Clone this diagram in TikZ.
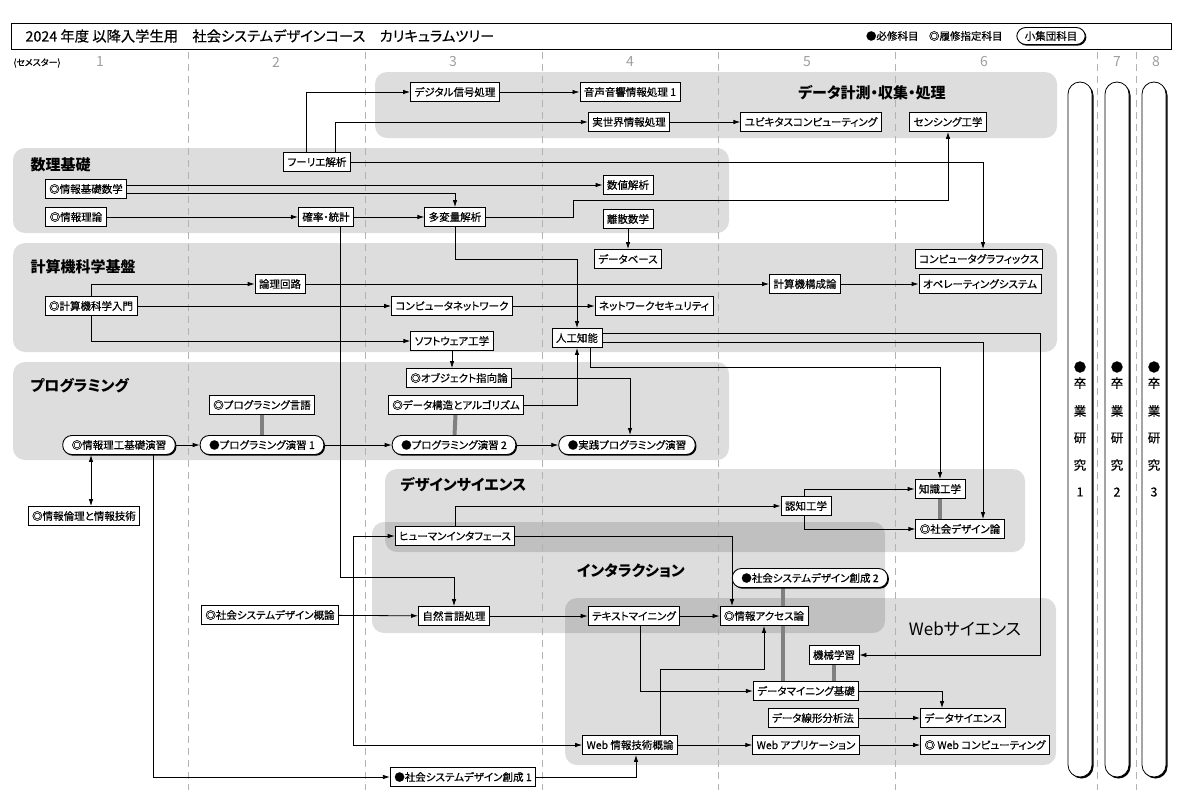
\documentclass[tikz,border=0pt]{standalone}
\usepackage{fontspec}
\setmainfont{Noto Sans CJK JP}[RawFeature=+palt]
\newfontfamily\boxfont{Noto Sans CJK JP}[RawFeature=+palt, FakeBold=0.4]
\usetikzlibrary{arrows.meta,backgrounds,shadows}

\tikzset{
    box/.style={draw, fill=white, line width=0.8pt, inner xsep=4pt, inner ysep=1pt,
        minimum height=19pt, font=\boxfont\fontsize{10.5}{11}\selectfont},
    pill/.style={box, rounded corners=9pt, line width=0.9pt, inner xsep=9pt,
        drop shadow={shadow xshift=1.2pt, shadow yshift=-1.2pt, opacity=1, fill=black}},
    group/.style={fill=black, fill opacity=0.135, rounded corners=12pt},
    grouptitle/.style={font=\fontsize{15}{16}\selectfont\bfseries},
    arr/.style={-{Latex[length=7pt,width=4.5pt]}, line width=0.8pt},
    tie/.style={line width=4pt, draw=black!50},
    sem/.style={text=black!38, font=\fontsize{14}{14}\selectfont},
    semline/.style={draw=black!30, line width=0.8pt, dash pattern=on 7pt off 5pt},
    thesis/.style={draw, fill=white, line width=0.8pt, rounded corners=12pt,
        drop shadow={shadow xshift=1.5pt, shadow yshift=-1.5pt, opacity=1, fill=black}},
}

\begin{document}
\begin{tikzpicture}[x=1pt, y=-1pt]
    \useasboundingbox (0,0) rectangle (1183,806);

    % semesters
    \foreach \x in {188,365,542,718,895,1097,1136}
        \draw[semline] (\x,52) -- (\x,790);
    \node[font=\boxfont\fontsize{9}{10}\selectfont] (semlabel) at (37,63) {(セメスター)};
    \foreach \x/\n in {100/1,276/2,453/3,630/4,807/5,984/6,1117/7,1156/8}
        \node[sem] (sem\n) at (\x,62) {\n};

    % header
    \draw[line width=0.8pt] (11,23) rectangle (1171,49);
    \node[anchor=west, font=\boxfont\fontsize{14.3}{15}\selectfont] (title) at (22,36)
        {2024 年度 以降入学生用　社会システムデザインコース　カリキュラムツリー};
    \node[anchor=east, font=\boxfont\fontsize{10.5}{11}\selectfont] (legend) at (1006,36) {●必修科目　◎履修指定科目};
    \node[pill, font=\boxfont\fontsize{10.5}{11}\selectfont, minimum height=17pt, inner xsep=8pt] (smallgrp) at (1051,36) {小集団科目};

    % group titles
    \node[grouptitle] (gdata) at (872,93) {データ計測・収集・処理};
    \node[grouptitle, anchor=west] (gmath) at (27,165) {数理基礎};
    \node[grouptitle, anchor=west] (gcs) at (27,267) {計算機科学基盤};
    \node[grouptitle, anchor=west] (gprog) at (27,386) {プログラミング};
    \node[grouptitle, anchor=west] (gdesign) at (397,485) {デザインサイエンス};
    \node[grouptitle] (ginter) at (631,571) {インタラクション};
    \node[font=\fontsize{17}{18}\selectfont] (gweb) at (965,629) {Webサイエンス};

    % data
    \node[box] (dsp) at (455,92) {デジタル信号処理};
    \node[box] (audio) at (630,92) {音声音響情報処理 1};
    \node[box] (realw) at (629,122) {実世界情報処理};
    \node[box] (ubiq) at (811,122) {ユビキタスコンピューティング};
    \node[box] (sensing) at (948,122) {センシング工学};

    % math
    \node[box] (fourier) at (317,162) {フーリエ解析};
    \node[box] (infomath) at (86,189) {◎情報基礎数学};
    \node[box] (infotheory) at (76,217) {◎情報理論};
    \node[box] (prob) at (326,217) {確率・統計};
    \node[box] (multi) at (455,217) {多変量解析};
    \node[box] (numeric) at (628,185) {数値解析};
    \node[box] (discrete) at (628,219) {離散数学};
    \node[box] (database) at (628,259) {データベース};
    \node[box] (cg) at (979,259) {コンピュータグラフィックス};

    % computer science
    \node[box] (logic) at (280,284) {論理回路};
    \node[box] (csintro) at (91,306) {◎計算機科学入門};
    \node[box] (network) at (452,306) {コンピュータネットワーク};
    \node[box] (security) at (654,306) {ネットワークセキュリティ};
    \node[box] (arch) at (805,284) {計算機構成論};
    \node[box] (os) at (980,284) {オペレーティングシステム};
    \node[box] (softeng) at (452,341) {ソフトウェア工学};
    \node[box] (ai) at (577,338) {人工知能};

    % programming
    \node[box] (oop) at (459,378) {◎オブジェクト指向論};
    \node[box] (dsa) at (456,405) {◎データ構造とアルゴリズム};
    \node[box] (plang) at (262,405) {◎プログラミング言語};
    \node[pill] (basics) at (119,445) {◎情報理工基礎演習};
    \node[pill] (prog1) at (262,445) {●プログラミング演習 1};
    \node[pill] (prog2) at (454,445) {●プログラミング演習 2};
    \node[pill] (practice) at (627,445) {●実践プログラミング演習};
    \node[box] (ethics) at (84,516) {◎情報倫理と情報技術};

    % design science, interaction
    \node[box] (hi) at (455,536) {ヒューマンインタフェース};
    \node[box] (cogn) at (806,506) {認知工学};
    \node[box] (know) at (940,489) {知識工学};
    \node[box] (socdes) at (960,529) {◎社会デザイン論};
    \node[box] (sdintro) at (270,615) {◎社会システムデザイン概論};
    \node[box] (nlp) at (454,616) {自然言語処理};
    \node[box] (textmin) at (634,616) {テキストマイニング};
    \node[box] (access) at (764,616) {◎情報アクセス論};
    \node[pill] (sd2) at (810,578) {●社会システムデザイン創成 2};

    % web science
    \node[box] (ml) at (834,655) {機械学習};
    \node[box] (dmbase) at (806,691) {データマイニング基礎};
    \node[box] (linear) at (813,718) {データ線形分析法};
    \node[box] (datasci) at (963,718) {データサイエンス};
    \node[box] (webintro) at (630,745) {Web 情報技術概論};
    \node[box] (webapp) at (806,745) {Web アプリケーション};
    \node[box] (webcomp) at (985,745) {◎ Web コンピューティング};
    \node[box] (sd1) at (463,777) {●社会システムデザイン創成 1};
    \coordinate (split) at (353,616);

    % graduation research
    \foreach \x/\n in {1080/1,1117/2,1154/3} {
        \draw[thesis] ({\x-12},82) rectangle ({\x+12},777);
        \foreach \ch/\y in {●/367,卒/383,業/411,研/438,究/465,\n/492}
            \node[font=\boxfont\fontsize{12.5}{13}\selectfont] (thesis\n-\y) at (\x,\y) {\ch};
    }

    % groups and ties go below
    \begin{pgfonlayer}{background}
        \fill[group] (375,72) rectangle (1057,138);
        \fill[group] (13,148) rectangle (729,233);
        \fill[group] (13,243) rectangle (1057,352);
        \fill[group] (13,362) rectangle (729,460);
        \fill[group] (385,469) rectangle (1025,552);
        \fill[group] (372,522) rectangle (885,633);
        \fill[group] (565,598) rectangle (1056,765);
        \draw[tie] (plang) -- (prog1);
        \draw[tie] (dsa) -- (prog2);
        \draw[tie] (know) -- (know |- socdes.north);
        \draw[tie] ([xshift=-27pt]sd2.south) -- ([xshift=-27pt]sd2.south |- dmbase.north);
        \draw[tie] (ml) -- (ml |- dmbase.north);
    \end{pgfonlayer}

    % arrows
    \draw[arr] ([xshift=-11pt]fourier.north) |- (dsp);
    \draw[arr] ([xshift=18pt]fourier.north) |- (realw);
    \draw[arr] (dsp) -- (audio);
    \draw[arr] (realw) -- (ubiq);
    \draw[arr] (fourier) -| ([xshift=4pt]cg.north);
    \draw[arr] (infomath.east |- numeric) -- (numeric);
    \draw[arr] ([yshift=-4pt]infomath.east) -| (multi);
    \draw[arr] (infotheory) -- (prob);
    \draw[arr] (prob) -- (multi);
    \draw[arr] (multi) -| (573,200) -| (sensing);
    \draw[arr] (discrete) -- (database);
    \draw[arr] (multi) |- (ai.north |- 0,259) -- (ai);
    \draw[arr] ([xshift=14pt]prob.south) |- (nlp.north |- 0,577) -- (nlp);

    \draw[arr] (csintro) |- (logic);
    \draw[arr] (csintro) -- (network);
    \draw[arr] (csintro) |- (softeng);
    \draw[arr] (logic) -- (arch);
    \draw[arr] (arch) -- (os);
    \draw[arr] (network) -- (security);
    \draw[arr] (softeng) -- (softeng |- oop.north);
    \draw[arr] (oop) -| ([xshift=3pt]practice.north);
    \draw[arr] (dsa) -| (ai);
    \draw[arr] ([yshift=5pt]ai.east) -| (1040,655) -- (ml);
    \draw[arr] ([yshift=-4pt]ai.east) -| ([xshift=23pt]socdes.north);
    \draw[arr] ([xshift=13pt]ai.south) |- (know.north |- 0,367) -- (know);

    \draw[arr] (basics) -- (prog1);
    \draw[arr] (prog1) -- (prog2);
    \draw[arr] (prog2) -- (practice);
    \draw[{Latex[length=7pt,width=4.5pt]}-{Latex[length=7pt,width=4.5pt]}, line width=0.8pt]
        ([xshift=-28pt]basics.south) -- ([xshift=-28pt]basics.south |- ethics.north);
    \draw[arr] ([xshift=34pt]basics.south) |- (sd1);
    \draw[arr] (sd1) -| ([xshift=6pt]webintro.south);

    \draw[arr] (sdintro) -- (nlp);
    \draw[arr] (split) |- (hi);
    \draw[arr] (split) |- (webintro);
    \draw[arr] (hi) |- (cogn);
    \draw[arr] (hi) -| ([xshift=-32pt]access.north);
    \draw[arr] ([xshift=-2pt]cogn.north) |- (know);
    \draw[arr] ([xshift=-2pt]cogn.south) |- (socdes);
    \draw[arr] (nlp) -- (textmin);
    \draw[arr] (textmin) -- (access);
    \draw[arr] ([xshift=6pt]textmin.south) |- (dmbase);
    \draw[arr] ([xshift=30pt]webintro.north) |- (access.south |- 0,669) -- (access);
    \draw[arr] (dmbase) -| ([xshift=-21pt]datasci.north);
    \draw[arr] (linear) -- (datasci);
    \draw[arr] (webintro) -- (webapp);
    \draw[arr] (webapp) -- (webcomp);
\end{tikzpicture}
\end{document}
